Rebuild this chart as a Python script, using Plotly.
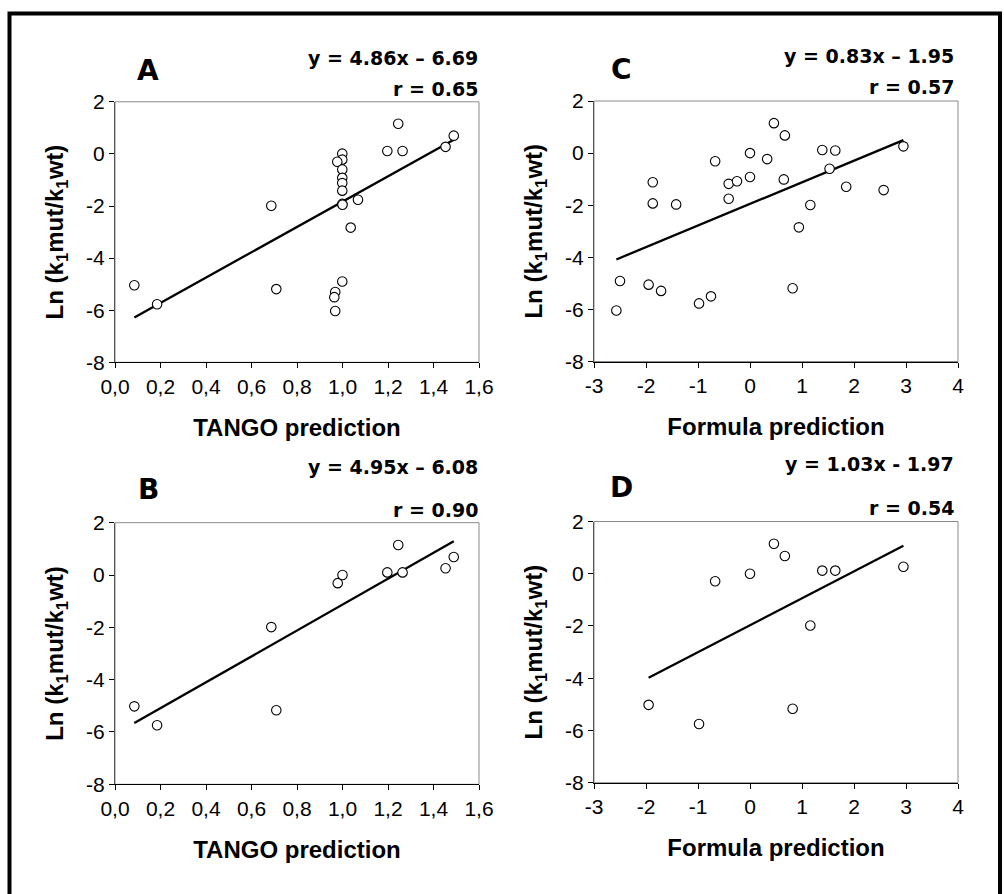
import plotly.graph_objects as go

W, H = 1004, 894

# ---------------- data ----------------
# Panel A: TANGO prediction vs Ln(k1mut/k1wt), all mutants
a_x = [0.085, 0.185, 0.687, 0.709, 0.999, 0.999, 0.977, 0.999, 0.999, 0.999, 0.999,
       0.999, 1.000, 1.068, 1.036, 0.999, 0.968, 0.964, 0.968, 1.197, 1.264, 1.245,
       1.453, 1.489]
a_y = [-5.04, -5.77, -1.99, -5.19, 0.01, -0.22, -0.30, -0.60, -0.92, -1.12, -1.41,
       -1.92, -1.95, -1.76, -2.83, -4.90, -5.30, -5.50, -6.03, 0.11, 0.11, 1.16,
       0.27, 0.70]
a_fit = (4.86, -6.69)
a_eq = "y = 4.86x – 6.69"
a_r = "r = 0.65"

# Panel B: TANGO prediction, subset
b_x = [0.085, 0.185, 0.687, 0.709, 0.979, 1.000, 1.197, 1.264, 1.245, 1.453, 1.489]
b_y = [-5.02, -5.74, -1.99, -5.17, -0.31, 0.00, 0.10, 0.10, 1.15, 0.26, 0.69]
b_fit = (4.95, -6.08)
b_eq = "y = 4.95x – 6.08"
b_r = "r = 0.90"

# Panel C: Formula prediction, all mutants
c_x = [-2.57, -2.50, -1.95, -1.71, -0.98, -0.75, -1.87, -1.87, -1.42, -0.67, -0.41,
       -0.41, -0.25, 0.00, 0.00, 0.33, 0.46, 0.67, 0.65, 0.82, 0.94, 1.16, 1.39,
       1.53, 1.64, 1.85, 2.57, 2.95]
c_y = [-6.04, -4.91, -5.05, -5.29, -5.77, -5.50, -1.12, -1.93, -1.97, -0.31, -1.18,
       -1.75, -1.08, 0.00, -0.92, -0.23, 1.15, 0.68, -1.01, -5.19, -2.85, -1.99, 0.12,
       -0.60, 0.10, -1.29, -1.42, 0.26]
c_fit = (0.83, -1.95)
c_eq = "y = 0.83x – 1.95"
c_r = "r = 0.57"

# Panel D: Formula prediction, subset
d_x = [-1.95, -0.98, -0.67, 0.00, 0.46, 0.67, 0.82, 1.16, 1.39, 1.64, 2.95]
d_y = [-5.02, -5.75, -0.29, 0.00, 1.15, 0.68, -5.17, -1.98, 0.12, 0.12, 0.27]
d_fit = (1.03, -1.97)
d_eq = "y = 1.03x - 1.97"
d_r = "r = 0.54"

y_ticks = [-8, -6, -4, -2, 0, 2]
y_ticktext = ["-8", "-6", "-4", "-2", "0", "2"]
tango_ticks = [0.0, 0.2, 0.4, 0.6, 0.8, 1.0, 1.2, 1.4, 1.6]
tango_ticktext = ["0,0", "0,2", "0,4", "0,6", "0,8", "1,0", "1,2", "1,4", "1,6"]
formula_ticks = [-3, -2, -1, 0, 1, 2, 3, 4]
formula_ticktext = ["-3", "-2", "-1", "0", "1", "2", "3", "4"]

x_titles = ["TANGO prediction", "Formula prediction", "TANGO prediction", "Formula prediction"]
y_title = "Ln (k<sub>1</sub>mut/k<sub>1</sub>wt)"

# ---------------- layout helpers (pixels) ----------------
def px_x(p):
    return p / W

def px_y(p):
    return 1 - p / H

# plot boxes (left, right, top, bottom) in pixels and text placements
panels = [
    dict(name="A", xs=a_x, ys=a_y, fit=a_fit, eq=a_eq, r=a_r, box=(115, 479, 101.8, 362.3),
         xr=[0, 1.6], xt=tango_ticks, xtt=tango_ticktext, xtitle=x_titles[0],
         letter=(148, 71), eqy=58, ry=89, eqx=480),
    dict(name="C", xs=c_x, ys=c_y, fit=c_fit, eq=c_eq, r=c_r, box=(594, 958, 101.0, 361.5),
         xr=[-3, 4], xt=formula_ticks, xtt=formula_ticktext, xtitle=x_titles[1],
         letter=(621, 70), eqy=56, ry=87, eqx=956),
    dict(name="B", xs=b_x, ys=b_y, fit=b_fit, eq=b_eq, r=b_r, box=(115, 479, 522.7, 784.3),
         xr=[0, 1.6], xt=tango_ticks, xtt=tango_ticktext, xtitle=x_titles[2],
         letter=(148, 490), eqy=467, ry=510, eqx=480),
    dict(name="D", xs=d_x, ys=d_y, fit=d_fit, eq=d_eq, r=d_r, box=(594, 958, 521.5, 782.7),
         xr=[-3, 4], xt=formula_ticks, xtt=formula_ticktext, xtitle=x_titles[3],
         letter=(621, 487), eqy=464, ry=508, eqx=956),
]

fig = go.Figure()
annotations = []
shapes = []
layout_axes = {}

tick_font = dict(family="Liberation Sans, Arial", size=21, color="black")
title_font = dict(family="Liberation Sans, Arial", size=24, color="black", weight="bold")
eq_font = dict(family="DejaVu Sans, Verdana", size=19, color="black", weight="bold")
letter_font = dict(family="DejaVu Sans, Verdana", size=28, color="black", weight="bold")

for i, p in enumerate(panels):
    n = "" if i == 0 else str(i + 1)
    xa, ya = "x" + n, "y" + n
    left, right, top, bottom = p["box"]
    slope, icpt = p["fit"]
    xs, ys = p["xs"], p["ys"]
    x0, x1 = min(xs), max(xs)
    fig.add_trace(go.Scatter(
        x=[x0, x1], y=[slope * x0 + icpt, slope * x1 + icpt], mode="lines",
        line=dict(color="black", width=2.3), xaxis=xa, yaxis=ya, showlegend=False,
        hoverinfo="skip"))
    fig.add_trace(go.Scatter(
        x=xs, y=ys, mode="markers",
        marker=dict(symbol="circle", size=9.5, color="white",
                    line=dict(color="black", width=1.1)),
        xaxis=xa, yaxis=ya, showlegend=False))

    layout_axes["xaxis" + n] = dict(
        domain=[px_x(left), px_x(right)], range=p["xr"], anchor=ya,
        tickvals=p["xt"], ticktext=p["xtt"], ticks="outside", ticklen=5, tickcolor="black",
        showline=True, linecolor="black", linewidth=1, showgrid=False, zeroline=False,
        automargin=False,
        tickfont=tick_font, title=dict(text=p["xtitle"], font=title_font, standoff=22))
    layout_axes["yaxis" + n] = dict(
        domain=[px_y(bottom), px_y(top)], range=[-8, 2], anchor=xa,
        tickvals=y_ticks, ticktext=y_ticktext, ticks="outside", ticklen=5, tickcolor="black",
        showline=True, linecolor="#555", linewidth=1, showgrid=False, zeroline=False,
        automargin=False,
        tickfont=tick_font, title=dict(text=y_title, font=title_font, standoff=15))

    # gray plot-area border
    shapes.append(dict(type="rect", xref=xa + " domain", yref=ya + " domain",
                       x0=0, x1=1, y0=0, y1=1, line=dict(color="#8a8a8a", width=1),
                       layer="below"))

    annotations.append(dict(text=p["eq"], xref="paper", yref="paper",
                            x=px_x(p["eqx"]), y=px_y(p["eqy"]), xanchor="right",
                            yanchor="middle", showarrow=False, font=eq_font))
    annotations.append(dict(text=p["r"], xref="paper", yref="paper",
                            x=px_x(p["eqx"]), y=px_y(p["ry"]), xanchor="right",
                            yanchor="middle", showarrow=False, font=eq_font))
    annotations.append(dict(text=p["name"], xref="paper", yref="paper",
                            x=px_x(p["letter"][0]), y=px_y(p["letter"][1]),
                            xanchor="center", yanchor="middle",
                            showarrow=False, font=letter_font))

# outer thick frame
shapes.append(dict(type="rect", xref="paper", yref="paper",
                   x0=px_x(9.5), x1=px_x(1000), y0=px_y(905), y1=px_y(13.5),
                   line=dict(color="black", width=4)))

fig.update_layout(
    width=W, height=H, margin=dict(l=0, r=0, t=0, b=0),
    paper_bgcolor="white", plot_bgcolor="white",
    annotations=annotations, shapes=shapes, showlegend=False,
    **layout_axes)

fig.write_html("out.html", post_script="document.body.style.margin='0';")
